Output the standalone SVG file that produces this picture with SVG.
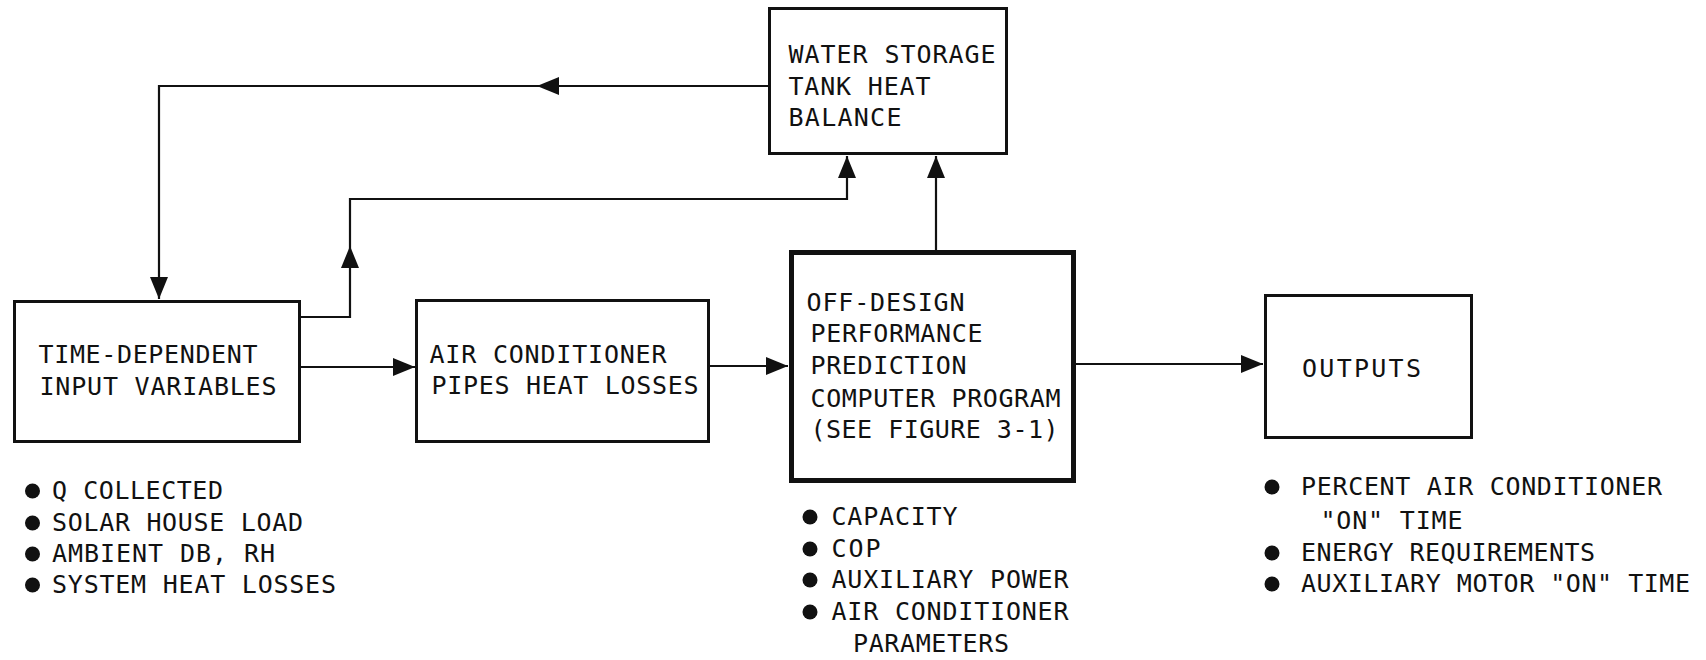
<svg xmlns="http://www.w3.org/2000/svg" width="1706" height="660" viewBox="0 0 1706 660">
<style>
.box{fill:#fff;stroke:#111;stroke-width:3}
.thick{fill:#fff;stroke:#111;stroke-width:5}
.conn{fill:none;stroke:#111;stroke-width:2.2}
text{font-family:"DejaVu Sans Mono","Liberation Mono",monospace;font-size:25px;fill:#111}
.dot{fill:#111}
</style>
<defs>
<marker id="arr" markerUnits="userSpaceOnUse" markerWidth="24" markerHeight="20" refX="22" refY="9" orient="auto">
<path d="M0,0 L22,9 L0,18 Z" fill="#111"/>
</marker>
</defs>
<rect width="1706" height="660" fill="#fff"/>
<g id="connectors">
<path class="conn" d="M768,86 H537" marker-end="url(#arr)"/>
<path class="conn" d="M537,86 H159 V299" marker-end="url(#arr)"/>
<path class="conn" d="M301,317 H350 V246" marker-end="url(#arr)"/>
<path class="conn" d="M350,246 V199 H847 V156" marker-end="url(#arr)"/>
<path class="conn" d="M936,250 V156" marker-end="url(#arr)"/>
<path class="conn" d="M301,367 H415" marker-end="url(#arr)"/>
<path class="conn" d="M710,366 H788" marker-end="url(#arr)"/>
<path class="conn" d="M1076,364 H1263" marker-end="url(#arr)"/>
</g>
<g id="water-storage">
<rect class="box" x="769.5" y="8.5" width="237" height="145"/>
<text x="788.5" y="63" textLength="207" lengthAdjust="spacing">WATER STORAGE</text>
<text x="788.5" y="95" textLength="142" lengthAdjust="spacing">TANK HEAT</text>
<text x="788.5" y="126" textLength="113" lengthAdjust="spacing">BALANCE</text>
</g>
<g id="time-dependent">
<rect class="box" x="14.5" y="301.5" width="285" height="140"/>
<text x="38.5" y="363" textLength="219" lengthAdjust="spacing">TIME-DEPENDENT</text>
<text x="39.5" y="395" textLength="237" lengthAdjust="spacing">INPUT VARIABLES</text>
</g>
<g id="air-conditioner-pipes">
<rect class="box" x="416.5" y="300.5" width="292" height="141"/>
<text x="429.5" y="363" textLength="237" lengthAdjust="spacing">AIR CONDITIONER</text>
<text x="431.5" y="394" textLength="267" lengthAdjust="spacing">PIPES HEAT LOSSES</text>
</g>
<g id="off-design">
<rect class="thick" x="791.5" y="252.5" width="282" height="228"/>
<text x="806.5" y="311" textLength="158" lengthAdjust="spacing">OFF-DESIGN</text>
<text x="810.5" y="342" textLength="172" lengthAdjust="spacing">PERFORMANCE</text>
<text x="810.5" y="374" textLength="156" lengthAdjust="spacing">PREDICTION</text>
<text x="810.5" y="407" textLength="250" lengthAdjust="spacing">COMPUTER PROGRAM</text>
<text x="810.5" y="438" textLength="248" lengthAdjust="spacing">(SEE FIGURE 3-1)</text>
</g>
<g id="outputs">
<rect class="box" x="1265.5" y="295.5" width="206" height="142"/>
<text x="1302" y="377" textLength="119" lengthAdjust="spacing">OUTPUTS</text>
</g>
<g id="input-list">
<circle class="dot" cx="32.5" cy="491" r="7.5"/>
<circle class="dot" cx="32.5" cy="523" r="7.5"/>
<circle class="dot" cx="32.5" cy="554" r="7.5"/>
<circle class="dot" cx="32.5" cy="585" r="7.5"/>
<text x="52" y="499" textLength="171" lengthAdjust="spacing">Q COLLECTED</text>
<text x="52" y="531" textLength="251" lengthAdjust="spacing">SOLAR HOUSE LOAD</text>
<text x="52" y="562" textLength="223" lengthAdjust="spacing">AMBIENT DB, RH</text>
<text x="52" y="593" textLength="284" lengthAdjust="spacing">SYSTEM HEAT LOSSES</text>
</g>
<g id="program-list">
<circle class="dot" cx="810" cy="517" r="7.5"/>
<circle class="dot" cx="810" cy="549" r="7.5"/>
<circle class="dot" cx="810" cy="580" r="7.5"/>
<circle class="dot" cx="810" cy="612" r="7.5"/>
<text x="831.5" y="525" textLength="126" lengthAdjust="spacing">CAPACITY</text>
<text x="831.5" y="557" textLength="49" lengthAdjust="spacing">COP</text>
<text x="831.5" y="588" textLength="237" lengthAdjust="spacing">AUXILIARY POWER</text>
<text x="831.5" y="620" textLength="237" lengthAdjust="spacing">AIR CONDITIONER</text>
<text x="853" y="652" textLength="156" lengthAdjust="spacing">PARAMETERS</text>
</g>
<g id="outputs-list">
<circle class="dot" cx="1272" cy="487" r="7.5"/>
<circle class="dot" cx="1272" cy="553" r="7.5"/>
<circle class="dot" cx="1272" cy="584" r="7.5"/>
<text x="1301" y="495" textLength="361" lengthAdjust="spacing">PERCENT AIR CONDITIONER</text>
<text x="1320.5" y="529" textLength="142" lengthAdjust="spacing">"ON" TIME</text>
<text x="1301" y="561" textLength="294" lengthAdjust="spacing">ENERGY REQUIREMENTS</text>
<text x="1301" y="592" textLength="389" lengthAdjust="spacing">AUXILIARY MOTOR "ON" TIME</text>
</g>
</svg>
